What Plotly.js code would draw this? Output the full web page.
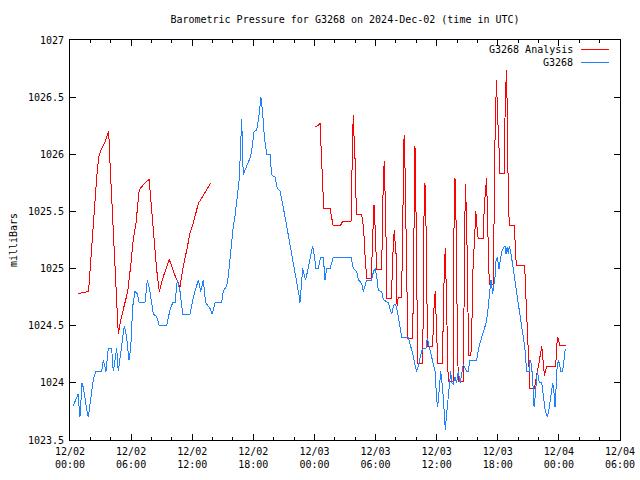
<!DOCTYPE html>
<html>
<head>
<meta charset="utf-8">
<script src="https://cdn.plot.ly/plotly-3.0.1.min.js"></script>
<style>
html,body{margin:0;padding:0;background:#fff;}
#chart{width:640px;height:480px;}
#chart .scatterlayer path, #chart .layer-above path, #chart .xaxislayer-above path, #chart .yaxislayer-above path, #chart path.xtick, #chart path.ytick { shape-rendering: crispEdges; }
</style>
</head>
<body>
<div id="chart"></div>
<script>
// Hours since 2024-12-02 00:00 UTC and pressure (mb)
const obsHours = [0.32,0.59,0.79,0.98,1.18,1.33,1.47,1.67,1.8,1.96,2.29,2.55,3.11,3.27,3.53,3.76,4.09,4.25,4.59,4.74,5.08,5.33,5.56,5.79,5.96,6.16,6.38,6.61,6.8,7.36,7.59,7.85,8.18,8.51,8.77,9.49,9.82,10.08,10.31,10.54,10.8,11.07,11.78,12.11,12.6,12.83,13.09,13.32,13.75,13.97,14.24,14.89,15.05,15.39,15.54,15.78,16.03,16.2,16.37,16.59,16.69,16.79,16.86,16.96,17.02,17.18,17.38,17.74,17.94,18.07,18.33,18.59,18.75,18.92,19.08,19.31,19.64,19.8,20.13,20.35,20.62,20.78,21.01,21.28,21.53,21.77,21.99,22.26,22.48,22.58,22.68,22.85,22.98,23.14,23.3,23.5,23.66,23.83,24.05,24.15,24.38,24.61,24.87,25.04,25.2,25.53,25.85,27.59,27.82,28.15,28.31,28.64,28.8,28.96,29.13,29.62,29.78,29.95,30.11,30.27,30.6,30.76,31.25,31.58,31.74,31.91,32.07,32.23,32.4,32.56,33.22,33.38,33.55,33.71,33.87,34.04,34.2,34.37,34.53,34.69,34.95,35.08,35.34,35.51,35.65,35.84,36.0,36.1,36.26,36.4,36.59,36.72,36.85,36.99,37.14,37.24,37.38,37.47,37.63,37.8,37.96,38.12,38.31,38.61,38.94,39.1,39.27,39.93,40.09,40.25,40.42,40.74,40.91,41.07,41.24,41.33,41.5,41.63,41.73,41.83,41.95,42.12,42.22,42.38,42.55,42.71,42.81,42.94,43.03,43.13,43.3,43.46,43.59,43.72,43.86,44.02,44.18,44.35,44.51,44.67,44.84,45.07,45.16,45.29,45.43,45.56,45.66,45.76,45.88,45.99,46.08,46.32,46.42,46.54,46.67,46.86,47.0,47.13,47.26,47.39,47.52,47.62,47.72,47.78,47.94,48.04,48.18,48.37,48.5,48.63];
const obsValues = [1023.80,1023.85,1023.90,1023.70,1024.00,1023.95,1023.85,1023.75,1023.70,1023.80,1024.03,1024.10,1024.10,1024.20,1024.10,1024.30,1024.30,1024.10,1024.30,1024.10,1024.35,1024.50,1024.40,1024.20,1024.30,1024.67,1024.80,1024.78,1024.70,1024.70,1024.90,1024.80,1024.60,1024.58,1024.50,1024.50,1024.64,1024.70,1024.70,1024.90,1024.80,1024.60,1024.60,1024.75,1024.90,1024.80,1024.90,1024.70,1024.65,1024.60,1024.70,1024.70,1024.80,1024.85,1024.93,1025.16,1025.37,1025.46,1025.57,1025.76,1025.94,1026.18,1026.31,1025.94,1025.82,1025.86,1025.90,1025.98,1026.10,1026.20,1026.21,1026.36,1026.50,1026.36,1026.15,1026.00,1026.00,1025.82,1025.80,1025.70,1025.68,1025.59,1025.50,1025.37,1025.25,1025.10,1025.00,1024.90,1024.77,1024.70,1024.85,1025.00,1024.95,1024.90,1024.97,1025.07,1025.13,1025.20,1025.07,1025.00,1025.00,1025.10,1025.10,1024.90,1025.00,1025.00,1025.10,1025.10,1025.00,1024.97,1024.90,1024.87,1024.80,1024.86,1024.90,1024.90,1024.97,1025.00,1024.93,1024.81,1024.80,1024.73,1024.70,1024.60,1024.67,1024.69,1024.66,1024.58,1024.49,1024.40,1024.40,1024.35,1024.30,1024.23,1024.16,1024.10,1024.15,1024.23,1024.28,1024.30,1024.30,1024.39,1024.30,1024.24,1024.19,1024.10,1023.86,1023.79,1023.95,1024.10,1023.95,1023.74,1023.59,1023.74,1023.85,1023.97,1024.10,1024.00,1023.99,1024.05,1024.00,1024.10,1024.00,1024.16,1024.10,1024.10,1024.20,1024.20,1024.29,1024.35,1024.40,1024.49,1024.55,1024.67,1024.81,1024.90,1024.78,1024.88,1024.93,1025.07,1025.10,1025.00,1025.07,1025.15,1025.18,1025.20,1025.13,1025.19,1025.13,1025.20,1025.13,1025.03,1024.96,1024.84,1024.77,1024.67,1024.55,1024.49,1024.40,1024.29,1024.10,1024.10,1024.20,1024.17,1024.03,1023.79,1023.87,1024.00,1024.10,1024.05,1024.00,1024.00,1023.91,1023.81,1023.75,1023.70,1023.75,1023.83,1023.91,1024.00,1023.91,1023.79,1023.95,1024.10,1024.20,1024.17,1024.10,1024.10,1024.20,1024.30];

const anaHours = [0.81,1.31,1.8,1.89,1.96,2.13,2.29,2.48,2.62,2.82,3.11,3.44,3.8,3.93,4.12,4.32,4.52,4.68,4.74,4.98,5.3,5.67,5.99,6.16,6.48,6.65,6.8,7.36,7.79,7.85,8.18,8.51,8.77,9.16,9.75,10.31,10.8,11.12,11.46,11.78,12.11,12.44,12.6,13.09,13.42,13.81,
  18.9,
  24.05,24.35,24.55,24.61,24.71,24.81,24.91,25.53,25.69,25.82,26.58,26.74,27.59,27.66,27.72,27.82,27.89,28.01,28.08,28.15,28.64,28.74,28.84,28.94,29.04,29.13,29.56,29.62,29.72,29.78,29.85,29.92,30.01,30.11,30.6,30.66,30.76,30.86,30.93,31.02,31.09,31.58,31.65,31.74,31.84,31.91,32.01,32.11,32.23,32.56,32.63,32.73,32.8,32.9,32.99,33.09,33.16,33.65,33.71,33.81,33.87,33.94,34.04,34.14,34.63,34.69,34.76,34.85,34.95,35.08,35.12,35.6,35.67,35.76,35.86,35.94,36.0,36.1,36.56,36.65,36.75,36.85,36.92,36.99,37.08,37.14,37.63,37.7,37.8,37.89,37.96,38.12,38.61,38.71,38.81,38.94,39.04,39.14,39.33,39.43,39.53,39.66,39.85,39.92,40.08,40.57,40.67,40.81,40.91,40.97,41.07,41.17,41.56,41.66,41.76,41.9,41.95,42.05,42.12,42.22,42.64,42.74,42.87,42.94,43.04,43.13,43.62,43.72,43.82,44.61,44.71,44.78,44.88,44.97,45.07,45.16,45.59,45.69,45.82,45.98,46.08,46.22,46.32,46.42,46.48,46.58,46.67,46.81,47.62,47.72,47.78,47.88,47.97,48.1,48.7];
const anaValues = [1024.78,1024.79,1024.80,1024.88,1024.97,1025.20,1025.44,1025.67,1025.80,1025.98,1026.05,1026.11,1026.20,1025.92,1025.57,1025.22,1024.87,1024.52,1024.43,1024.55,1024.67,1024.80,1025.05,1025.22,1025.40,1025.57,1025.69,1025.75,1025.78,1025.69,1025.34,1024.99,1024.80,1024.93,1025.08,1024.94,1024.84,1025.02,1025.16,1025.31,1025.40,1025.51,1025.57,1025.64,1025.69,1025.75,
  null,
  1026.24,1026.25,1026.27,1026.14,1025.91,1025.66,1025.53,1025.53,1025.45,1025.38,1025.38,1025.41,1025.41,1025.64,1026.11,1026.34,1026.15,1025.91,1025.62,1025.47,1025.47,1025.42,1025.34,1025.15,1025.02,1024.91,1024.91,1025.02,1025.24,1025.45,1025.56,1025.45,1025.25,1024.99,1024.99,1025.40,1025.78,1025.94,1025.75,1025.34,1024.74,1024.74,1025.05,1025.24,1025.34,1025.24,1025.13,1024.67,1024.75,1024.75,1025.10,1025.80,1026.17,1025.86,1025.27,1024.68,1024.39,1024.39,1024.87,1025.64,1026.07,1025.75,1025.04,1024.17,1024.17,1024.96,1025.48,1025.75,1025.40,1024.49,1024.32,1024.32,1024.57,1024.71,1024.80,1024.57,1024.38,1024.17,1024.17,1024.67,1025.00,1025.18,1024.97,1024.62,1024.21,1024.01,1024.01,1025.34,1025.79,1025.50,1024.90,1024.01,1024.01,1025.34,1025.74,1025.45,1024.90,1024.24,1024.24,1024.32,1024.93,1025.20,1025.50,1025.40,1025.26,1025.26,1025.53,1025.70,1025.79,1025.50,1025.05,1024.86,1024.86,1025.76,1026.36,1026.65,1026.36,1026.22,1025.98,1025.83,1025.83,1026.52,1026.74,1026.20,1025.61,1025.38,1025.38,1025.20,1025.03,1025.03,1024.91,1024.71,1024.49,1024.29,1024.10,1023.95,1023.95,1024.02,1024.07,1024.14,1024.21,1024.27,1024.32,1024.24,1024.17,1024.06,1024.10,1024.14,1024.14,1024.20,1024.32,1024.40,1024.37,1024.33,1024.33];

const baseMs = Date.UTC(2024, 11, 2, 0, 0, 0);
function toDate(h) {
  return new Date(baseMs + Math.round(h * 3600000)).toISOString().replace('T', ' ').slice(0, 19);
}

const MONO = 'DejaVu Sans Mono, Liberation Mono, monospace';
const RED = '#ff0000';
const BLUE = '#1e82ff';

const traces = [
  {
    x: anaHours.map(toDate), y: anaValues, name: 'G3268 Analysis',
    type: 'scatter', mode: 'lines', connectgaps: false,
    line: {color: RED, width: 1}, hoverinfo: 'skip'
  },
  {
    x: obsHours.map(toDate), y: obsValues, name: 'G3268',
    type: 'scatter', mode: 'lines',
    line: {color: BLUE, width: 1}, hoverinfo: 'skip'
  }
];

const legendY = [0.977, 0.944];
const layout = {
  width: 640, height: 480,
  margin: {l: 70, r: 20, t: 40, b: 40, pad: 0},
  paper_bgcolor: '#ffffff', plot_bgcolor: '#ffffff',
  showlegend: false,
  separators: '.',
  font: {family: MONO, size: 10, color: '#000'},
  title: {
    text: 'Barometric Pressure for G3268 on 2024-Dec-02 (time in UTC)',
    font: {family: MONO, size: 10, color: '#000'},
    x: 0.5, xref: 'paper', xanchor: 'center',
    y: 1 - 19 / 480, yref: 'container', yanchor: 'middle'
  },
  xaxis: {
    type: 'date',
    range: ['2024-12-02 00:00:00', '2024-12-04 06:00:00'],
    tick0: '2024-12-02 00:00:00', dtick: 21600000,
    tickformat: '%m/%d<br>%H:%M',
    ticks: 'inside', ticklen: 6, tickcolor: '#000', tickwidth: 1,
    ticklabelstandoff: 2,
    showline: true, linecolor: '#000', linewidth: 1, mirror: 'ticks',
    showgrid: false, zeroline: false,
    tickfont: {family: MONO, size: 10, color: '#000'},
    minor: {dtick: 7200000, ticks: 'inside', ticklen: 3, tickcolor: '#000', showgrid: false}
  },
  yaxis: {
    range: [1023.5, 1027], dtick: 0.5, tick0: 1023.5,
    tickformat: '~g',
    ticks: 'inside', ticklen: 6, tickcolor: '#000', tickwidth: 1,
    ticklabelstandoff: 3,
    showline: true, linecolor: '#000', linewidth: 1, mirror: 'ticks',
    showgrid: false, zeroline: false,
    tickfont: {family: MONO, size: 10, color: '#000'},
    title: {text: 'milliBars', font: {family: MONO, size: 10, color: '#000'}, standoff: 8}
  },
  annotations: [
    {text: 'G3268 Analysis', xref: 'paper', yref: 'paper', x: 0.918, y: legendY[0],
     xanchor: 'right', yanchor: 'middle', showarrow: false, font: {family: MONO, size: 10, color: '#000'}},
    {text: 'G3268', xref: 'paper', yref: 'paper', x: 0.918, y: legendY[1],
     xanchor: 'right', yanchor: 'middle', showarrow: false, font: {family: MONO, size: 10, color: '#000'}}
  ],
  shapes: [
    {type: 'line', xref: 'paper', yref: 'paper', x0: 0.929, x1: 0.98, y0: legendY[0], y1: legendY[0], line: {color: RED, width: 1}},
    {type: 'line', xref: 'paper', yref: 'paper', x0: 0.929, x1: 0.98, y0: legendY[1], y1: legendY[1], line: {color: BLUE, width: 1}}
  ]
};

Plotly.newPlot('chart', traces, layout, {staticPlot: true, displayModeBar: false});
</script>
</body>
</html>
